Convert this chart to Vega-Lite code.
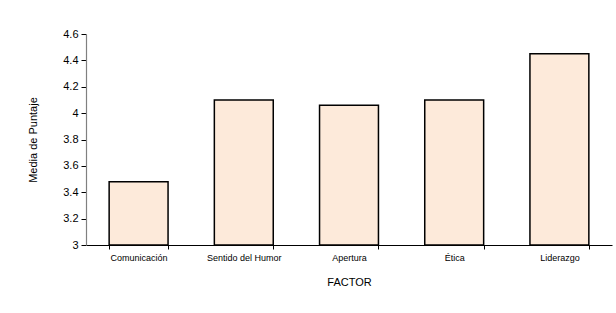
{
  "$schema": "https://vega.github.io/schema/vega-lite/v6.json",
  "autosize": "none",
  "width": 526,
  "height": 211,
  "padding": {"left": 86, "top": 34, "right": 4, "bottom": 68},
  "background": "white",
  "config": {
    "view": {"stroke": null},
    "font": "Liberation Sans",
    "axis": {"grid": false, "labelFont": "Liberation Sans", "titleFont": "Liberation Sans", "titleFontWeight": "normal", "labelColor": "black", "titleColor": "black"}
  },
  "data": {
    "values": [
      {"factor": "Comunicación", "media": 3.48},
      {"factor": "Sentido del Humor", "media": 4.1},
      {"factor": "Apertura", "media": 4.06},
      {"factor": "Ética", "media": 4.1},
      {"factor": "Liderazgo", "media": 4.45}
    ]
  },
  "mark": {"type": "bar", "fill": "#FDEADA", "stroke": "black", "strokeWidth": 1.5},
  "encoding": {
    "x": {
      "field": "factor",
      "type": "nominal",
      "sort": null,
      "scale": {"paddingInner": 0.44, "paddingOuter": 0.22},
      "axis": {
        "title": "FACTOR",
        "titleFontSize": 11,
        "titlePadding": 14,
        "labelAngle": 0,
        "labelFontSize": 9,
        "labelPadding": 4,
        "tickBand": "extent",
        "tickSize": 4,
        "tickColor": "black",
        "domainColor": "black",
        "domainWidth": 1.2,
        "zindex": 1
      }
    },
    "y": {
      "field": "media",
      "type": "quantitative",
      "scale": {"domain": [3, 4.6], "zero": false, "nice": false},
      "axis": {
        "title": "Media de Puntaje",
        "titleFontSize": 11,
        "titlePadding": 24,
        "values": [3, 3.2, 3.4, 3.6, 3.8, 4, 4.2, 4.4, 4.6],
        "format": "~g",
        "labelFontSize": 11,
        "labelPadding": 3,
        "tickSize": 5,
        "tickColor": "black",
        "domainColor": "#808080",
        "domainWidth": 1.2,
        "zindex": 1
      }
    },
    "y2": {"datum": 3}
  }
}
